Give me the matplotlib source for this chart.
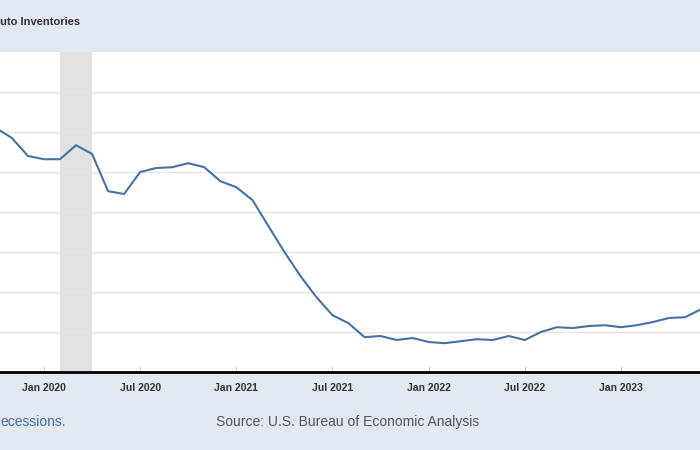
import numpy as np
import matplotlib
matplotlib.use('Agg')
import matplotlib.pyplot as plt
import pandas as pd

# monthly values, Oct 2019 .. Jul 2023 (thousands of units)
start_month = '2019-10-01'
inventories = [610, 585, 540, 532, 532, 567, 545, 452, 445, 500, 510, 512,
               522, 512, 477, 462, 430, 365, 300, 240, 187, 142, 122, 87,
               90, 80, 85, 75, 72, 77, 82, 80, 90, 80, 100, 112,
               110, 115, 117, 112, 117, 125, 135, 137, 157, 185]
recession = ('2020-02-01', '2020-04-01')
title = 'uto Inventories'
recession_note = 'ecessions.'
source = 'Source: U.S. Bureau of Economic Analysis'

months = pd.date_range(start_month, periods=len(inventories), freq='MS')
idx = np.arange(len(months))

fig = plt.figure(figsize=(7, 4.5), dpi=100)
fig.patch.set_facecolor('#e1e8f0')
plt.rcParams['font.family'] = ['Liberation Sans', 'DejaVu Sans']

W, H = 700, 450
ax = fig.add_axes([0, (H - 372) / H, 1, 320 / H])
ax.set_facecolor('white')

# recession shading
r0 = months.get_loc(pd.Timestamp(recession[0]))
r1 = months.get_loc(pd.Timestamp(recession[1]))
ax.axvspan(r0, r1, color='#e1e1e1', lw=0, zorder=0)

ax.plot(idx, inventories, color='#4572a7', lw=1.5, zorder=3)

ax.set_ylim(0, 800)
ax.set_yticks(np.arange(100, 800, 100))
ax.grid(axis='y', color='#e6e6e6', lw=1)
ax.set_axisbelow(True)
ax.tick_params(axis='y', left=False, labelleft=False)

# x axis: Jan 2020 sits at 44 px, one month ~16 px
px_per_month = 577 / 36
x0 = 3 - 44 / px_per_month
tick_pos = [i for i, m in enumerate(months) if m.month in (1, 7)]
tick_lab = [months[i].strftime('%b %Y') for i in tick_pos]
ax.set_xticks(tick_pos)
ax.set_xticklabels(tick_lab)
ax.set_xlim(x0, x0 + W / px_per_month)   # after set_xticks, which widens limits
ax.tick_params(axis='x', length=4, direction='in', color='#cccccc',
               labelsize=7.5, labelcolor='#333333', pad=8)
for t in ax.get_xticklabels():
    t.set_fontweight('bold')

for s in ('left', 'right', 'top'):
    ax.spines[s].set_visible(False)
ax.spines['bottom'].set_color('black')
ax.spines['bottom'].set_linewidth(2)

fig.text(0, 1 - 22 / H, title, ha='left', va='center',
         fontsize=8, fontweight='bold', color='#333333')
fig.text(0, 28 / H, recession_note, ha='left', va='center',
         fontsize=10, color='#4a6fa5')
fig.text(216 / W, 28 / H, source, ha='left', va='center',
         fontsize=10, color='#555555')

fig.savefig('out.png', dpi=100, facecolor=fig.get_facecolor())
